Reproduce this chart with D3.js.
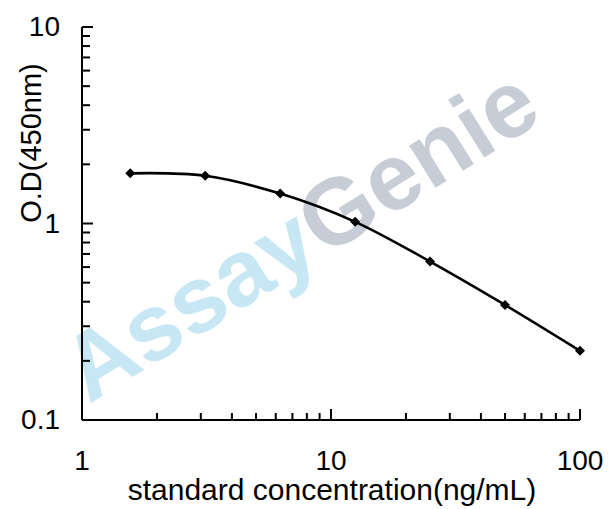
<!DOCTYPE html>
<html><head><meta charset="utf-8">
<script src="https://cdn.jsdelivr.net/npm/d3@7"></script>
<style>
html,body{margin:0;padding:0;background:#fff;}
svg{display:block;font-family:"Liberation Sans",Arial,sans-serif;}
</style></head>
<body>
<svg id="c" width="608" height="509"></svg>
<script>
const concentrations = [1.5625, 3.125, 6.25, 12.5, 25, 50, 100];
const odValues = [1.80, 1.75, 1.42, 1.02, 0.64, 0.385, 0.225];
const xTickLabels = [1, 10, 100];
const yTickLabels = [0.1, 1, 10];
const xTitle = "standard concentration(ng/mL)";
const yTitle = "O.D(450nm)";
const watermark = ["Assay", "Genie"];

const svg = d3.select("#c");
const x = d3.scaleLog().domain([1, 100]).range([82, 580]);
const y = d3.scaleLog().domain([0.1, 10]).range([420, 27]);

// watermark
const wm = svg.append("text")
  .attr("transform", "translate(317,262) rotate(-32)")
  .attr("text-anchor", "middle")
  .style("font-family", "'Liberation Sans',Arial,sans-serif")
  .style("font-weight", "bold")
  .style("font-size", "94px");
wm.append("tspan").text(watermark[0]).attr("fill", "#c8e7f5");
wm.append("tspan").text(watermark[1]).attr("fill", "#c7cdd6");

function minorTicks(domain) {
  const out = [];
  for (let d = domain[0]; d < domain[1]; d *= 10)
    for (let k = 2; k <= 9; k++) out.push(d * k);
  return out;
}

// x axis
const gx = svg.append("g").attr("transform", "translate(0,420)");
gx.append("line").attr("x1", x(1)).attr("x2", x(100)).attr("stroke", "#000").attr("stroke-width", 2);
gx.selectAll(".mj").data(xTickLabels).join("line")
  .attr("x1", d => x(d)).attr("x2", d => x(d)).attr("y1", 0).attr("y2", -11)
  .attr("stroke", "#000").attr("stroke-width", 2);
gx.selectAll(".mn").data(minorTicks([1, 100])).join("line")
  .attr("x1", d => x(d)).attr("x2", d => x(d)).attr("y1", 0).attr("y2", -7)
  .attr("stroke", "#000").attr("stroke-width", 2);
gx.selectAll("text").data(xTickLabels).join("text")
  .attr("x", d => x(d)).attr("y", 50).attr("text-anchor", "middle")
  .style("font-size", "28px").text(d => d);

// y axis
const gy = svg.append("g").attr("transform", "translate(82,0)");
gy.append("line").attr("y1", y(0.1)).attr("y2", y(10)).attr("stroke", "#000").attr("stroke-width", 2);
gy.selectAll(".mj").data(yTickLabels).join("line")
  .attr("y1", d => y(d)).attr("y2", d => y(d)).attr("x1", 0).attr("x2", 11)
  .attr("stroke", "#000").attr("stroke-width", 2);
gy.selectAll(".mn").data(minorTicks([0.1, 10])).join("line")
  .attr("y1", d => y(d)).attr("y2", d => y(d)).attr("x1", 0).attr("x2", 8)
  .attr("stroke", "#000").attr("stroke-width", 2);
gy.selectAll("text").data(yTickLabels).join("text")
  .attr("x", -22).attr("y", d => y(d) + 9).attr("text-anchor", "end")
  .style("font-size", "28px").text(d => d);

// titles
svg.append("text").attr("x", 332).attr("y", 500).attr("text-anchor", "middle")
  .style("font-size", "30px").text(xTitle);
svg.append("text").attr("transform", "translate(41,143) rotate(-90)").attr("text-anchor", "middle")
  .style("font-size", "29px").text(yTitle);

// curve
const pts = concentrations.map((c, i) => [x(c), y(odValues[i])]);
svg.append("path").attr("d", d3.line().curve(d3.curveCatmullRom.alpha(0.5))(pts))
  .attr("fill", "none").attr("stroke", "#000").attr("stroke-width", 2.6);
svg.selectAll(".pt").data(pts).join("path")
  .attr("transform", d => `translate(${d[0]},${d[1]})`)
  .attr("d", d3.symbol(d3.symbolDiamond2, 64)())
  .attr("fill", "#000");
</script>
</body></html>
